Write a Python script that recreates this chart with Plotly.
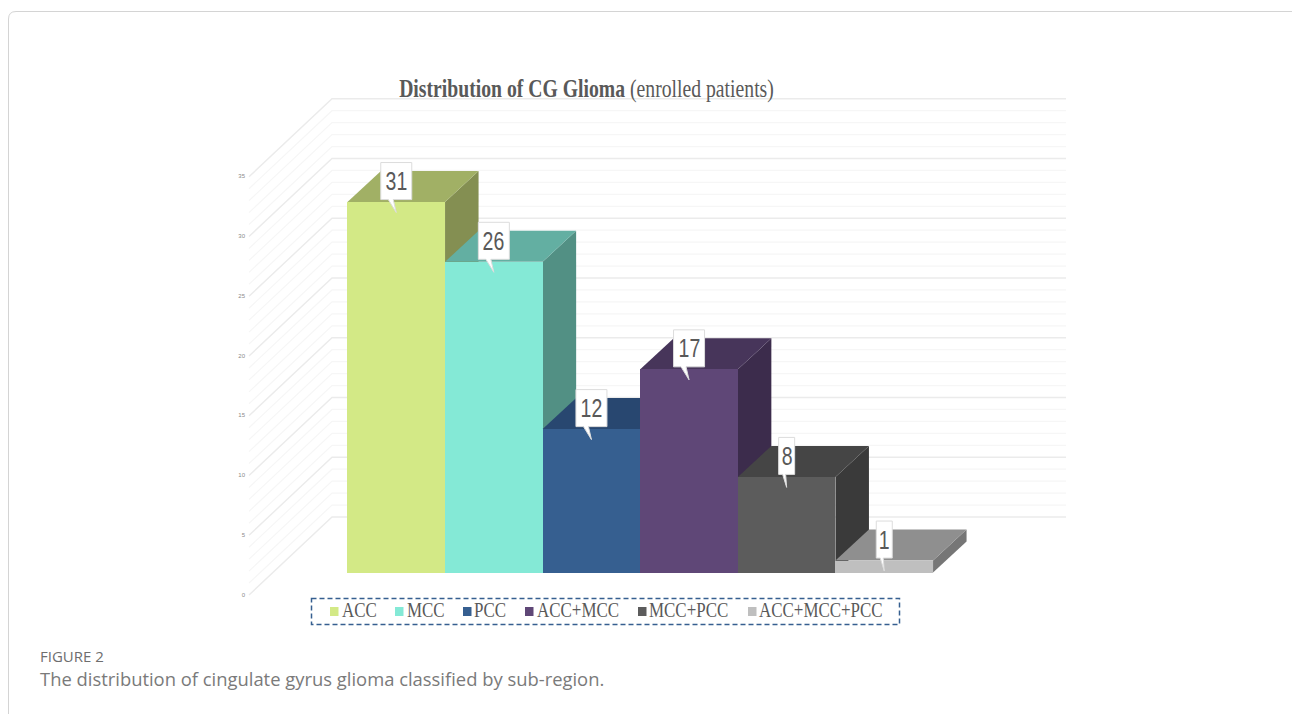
import plotly.graph_objects as go

categories = ["ACC", "MCC", "PCC", "ACC+MCC", "MCC+PCC", "ACC+MCC+PCC"]
patients = [31, 26, 12, 17, 8, 1]
value_ticks = [0, 5, 10, 15, 20, 25, 30, 35]
front_colors = ["#d3e986", "#84e9d6", "#365f90", "#5f4777", "#5c5c5c", "#bfbfbf"]
top_colors = ["#a1b065", "#63afa2", "#284770", "#47355a", "#454545", "#8f8f8f"]
side_colors = ["#848f52", "#529084", "#213b5d", "#3c2c4c", "#3a3a3a", "#767676"]

W, H = 1292, 714
# calibration of the drawing (pixels)
PX_CAT0, PX_PER_CAT = 396.25, 97.6
PX_BASE, PX_PER_UNIT = 572.5, 11.95
LEFT_DOMAIN = 246
DEPTH_X, DEPTH_Y = 33.5 / PX_PER_CAT, 31 / PX_PER_UNIT
WALL_L_X = (249 - PX_CAT0) / PX_PER_CAT
WALL_B_X = (332 - PX_CAT0) / PX_PER_CAT
WALL_R_X = (1066 - PX_CAT0) / PX_PER_CAT
WALL_L_DY = (PX_BASE - 595) / PX_PER_UNIT
WALL_B_DY = (PX_BASE - 517) / PX_PER_UNIT

xr = [(LEFT_DOMAIN - PX_CAT0) / PX_PER_CAT, (W - PX_CAT0) / PX_PER_CAT]
yr = [(PX_BASE - H) / PX_PER_UNIT, PX_BASE / PX_PER_UNIT]
yr2 = [yr[0] - WALL_L_DY - 0.05, yr[1] - WALL_L_DY - 0.05]


def px(x):
    return x / W


def py(y):
    return 1 - y / H


fig = go.Figure()

# walls
for major in (False, True):
    xs, ys = [], []
    for v in range(0, value_ticks[-1] + 1):
        if (v % 5 == 0) == major:
            xs += [WALL_L_X, WALL_B_X, WALL_R_X, None]
            ys += [v + WALL_L_DY, v + WALL_B_DY, v + WALL_B_DY, None]
    fig.add_trace(go.Scatter(
        x=xs, y=ys, mode="lines", hoverinfo="skip", showlegend=False, zorder=0,
        line=dict(color="#ebebeb" if major else "#f6f6f6", width=1.4 if major else 1.2),
    ))

half = 0.5
for i, (name, v) in enumerate(zip(categories, patients)):
    z = 1 + 2 * i
    fig.add_trace(go.Scatter(
        x=[i + half, i + half + DEPTH_X, i + half + DEPTH_X, i + half, i + half],
        y=[0, DEPTH_Y, v + DEPTH_Y, v, 0],
        fill="toself", fillcolor=side_colors[i], mode="none", hoverinfo="skip",
        showlegend=False, zorder=z,
    ))
    fig.add_trace(go.Scatter(
        x=[i - half, i + half, i + half + DEPTH_X, i - half + DEPTH_X, i - half],
        y=[v, v, v + DEPTH_Y, v + DEPTH_Y, v],
        fill="toself", fillcolor=top_colors[i], mode="none", hoverinfo="skip",
        showlegend=False, zorder=z,
    ))
    fig.add_trace(go.Bar(
        x=[i], y=[v], width=1, name=name, marker=dict(color=front_colors[i], line=dict(width=0)),
        showlegend=False, zorder=z + 1,
    ))

# carries the left-hand value axis
fig.add_trace(go.Scatter(x=[0], y=[0], yaxis="y2", mode="markers", marker=dict(opacity=0),
                         hoverinfo="skip", showlegend=False))

# callouts
annotations = []
for i, v in enumerate(patients):
    hw = (15.5 if v >= 10 else 8) / PX_PER_CAT
    b = v + 2.5 / PX_PER_UNIT
    t = v + 39.5 / PX_PER_UNIT
    tip = v - 10.5 / PX_PER_UNIT
    a = i - 8 / PX_PER_CAT if v >= 10 else i - 4 / PX_PER_CAT
    c = i - 3 / PX_PER_CAT if v >= 10 else i - 1 / PX_PER_CAT
    fig.add_trace(go.Scatter(
        x=[i - hw, a, i, c, i + hw, i + hw, i - hw, i - hw],
        y=[b, b, tip, b, b, t, t, b],
        fill="toself", fillcolor="#ffffff", mode="lines",
        line=dict(color="#dcdcdc", width=1), hoverinfo="skip", showlegend=False, zorder=40,
    ))
    annotations.append(dict(
        x=i, y=(b + t) / 2, xref="x", yref="y", text=str(v), showarrow=False,
        font=dict(family="Liberation Sans", size=26, color="#595959"),
        xanchor="center", yanchor="middle",
    ))

# legend key
legend_swatch_px = [330, 395, 463, 525, 638, 748]
legend_text_px = [341, 406, 473, 536, 648, 758]
shapes = [
    dict(type="path", xref="paper", yref="paper",
         path=f"M {px(8.5)} {py(714)} L {px(8.5)} {py(19)} Q {px(8.5)} {py(11.5)} {px(16)} {py(11.5)} L {px(1292)} {py(11.5)}",
         line=dict(color="#d4d4d4", width=1)),
    dict(type="rect", xref="paper", yref="paper",
         x0=px(311.5), x1=px(899.5), y0=py(598.5), y1=py(624.5),
         line=dict(color="#365f90", width=1.5, dash="5px,3px")),
]
for name, sx, tx, col in zip(categories, legend_swatch_px, legend_text_px, front_colors):
    shapes.append(dict(type="rect", xref="paper", yref="paper",
                       x0=px(sx), x1=px(sx + 8.5), y0=py(607), y1=py(616),
                       fillcolor=col, line=dict(width=0)))
    annotations.append(dict(
        x=px(tx), y=py(609), xref="paper", yref="paper", text=name, showarrow=False,
        xanchor="left", yanchor="middle", xshift=-1,
        font=dict(family="Liberation Serif", size=22, color="#595959"),
    ))

annotations += [
    dict(x=px(39), y=py(656), xref="paper", yref="paper", text="FIGURE 2", showarrow=False,
         xanchor="left", yanchor="middle", xshift=-1,
         font=dict(family="Open Sans", size=15, color="#6e6e6e")),
    dict(x=px(39), y=py(678), xref="paper", yref="paper",
         text="The distribution of cingulate gyrus glioma classified by sub-region.",
         showarrow=False, xanchor="left", yanchor="middle", xshift=-1,
         font=dict(family="Open Sans", size=18.4, color="#7a7a7a")),
]

fig.update_layout(
    width=W, height=H, margin=dict(l=0, r=0, t=0, b=0), autosize=False,
    paper_bgcolor="#ffffff", plot_bgcolor="rgba(0,0,0,0)", bargap=0, barmode="overlay",
    showlegend=False, shapes=shapes, annotations=annotations,
    title=dict(
        text="<b>Distribution of CG Glioma</b> (enrolled patients)",
        x=px(586.5), xanchor="center", xref="paper", y=py(88), yanchor="middle", yref="paper",
        font=dict(family="Liberation Serif", size=25, color="#595959"),
    ),
    xaxis=dict(domain=[px(LEFT_DOMAIN), 1], range=xr, visible=False, fixedrange=True),
    yaxis=dict(domain=[0, 1], range=yr, visible=False, fixedrange=True),
    yaxis2=dict(
        domain=[0, 1], range=yr2, overlaying="y", side="left", anchor="x",
        tickmode="array", tickvals=value_ticks, ticktext=[str(t) for t in value_ticks],
        showgrid=False, zeroline=False, showline=False, ticks="", fixedrange=True,
        tickfont=dict(family="Liberation Sans", size=6, color="#8a8a8a"),
    ),
)

# the reference's text is drawn condensed: narrow the title, callouts and legend labels
post = """
document.body.style.margin='0';
(function(){
  function squeeze(el, k, origin){
    el.style.transformBox='fill-box';
    el.style.transformOrigin=origin;
    el.style.transform='scaleX('+k+')';
  }
  document.querySelectorAll('.gtitle').forEach(function(e){squeeze(e,0.788,'center');});
  var a=document.querySelectorAll('.annotation-text');
  a.forEach(function(e,i){
    if(i<6) squeeze(e,0.75,'center');
    else if(i<12) squeeze(e,0.77,'left center');
  });
})();
"""
fig.write_html("out.html", config=dict(displayModeBar=False), post_script=post)
